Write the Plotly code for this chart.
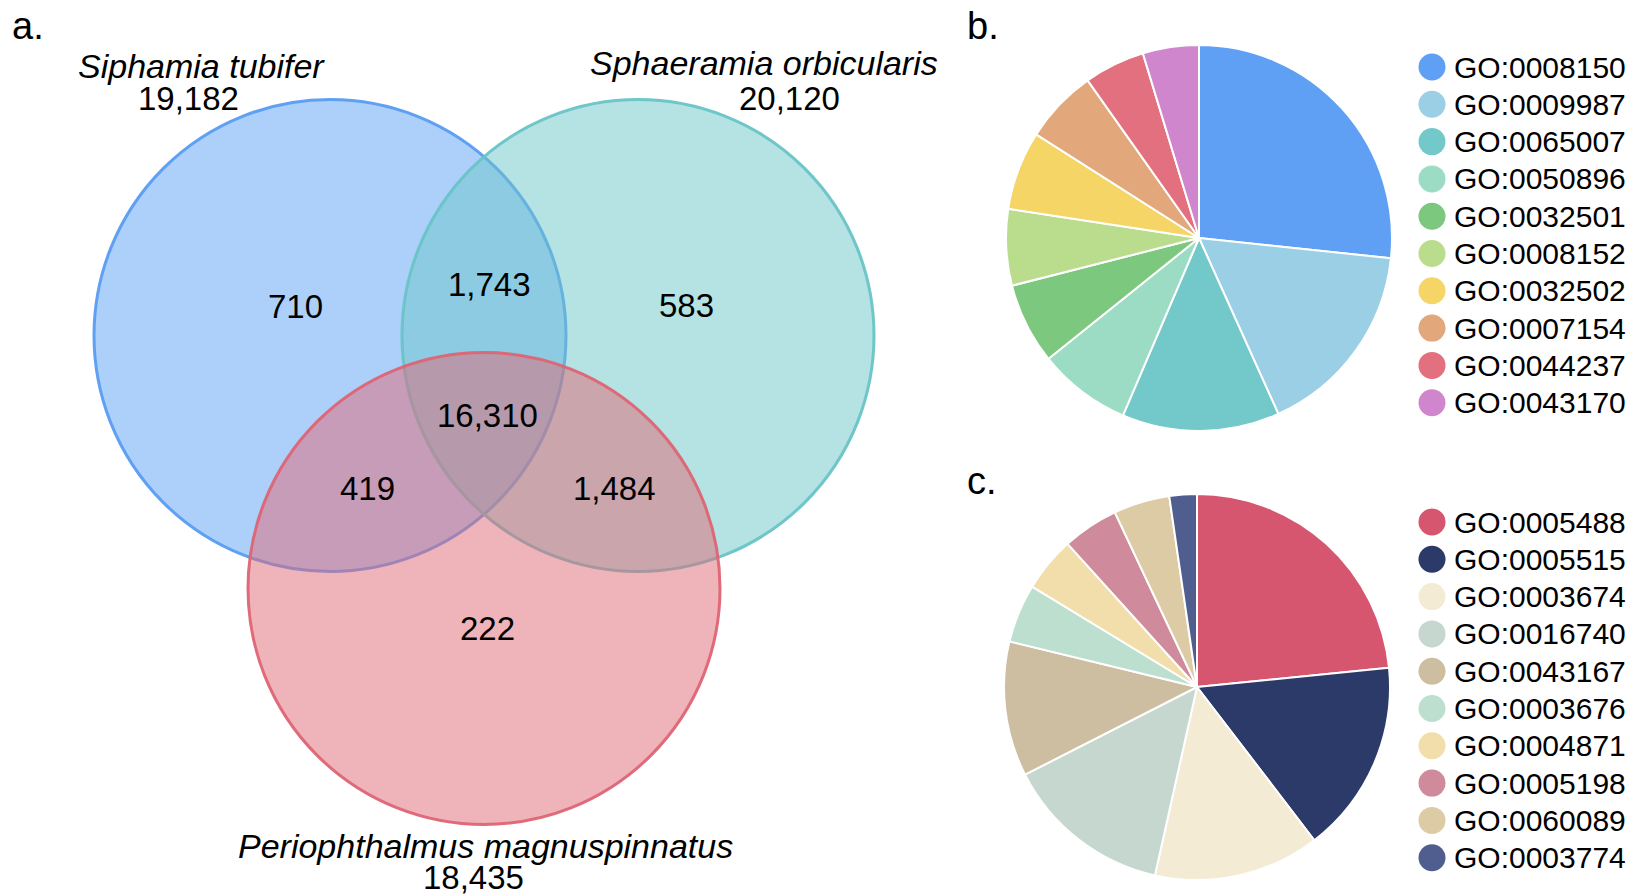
import numpy as np
import plotly.graph_objects as go

W, H = 1638, 896
FONT = "Arial, Liberation Sans, sans-serif"

# ---- Venn data: gene families shared between the three species ----
species = ["Siphamia tubifer", "Sphaeramia orbicularis", "Periophthalmus magnuspinnatus"]
species_totals = [19182, 20120, 18435]
# region counts: A only, B only, C only, A&B, A&C, B&C, A&B&C
region_names = ["A", "B", "C", "AB", "AC", "BC", "ABC"]
region_counts = [710, 583, 222, 1743, 419, 1484, 16310]

# ---- GO term composition (b: biological process, c: molecular function) ----
go_terms_b = ["GO:0008150", "GO:0009987", "GO:0065007", "GO:0050896", "GO:0032501",
              "GO:0008152", "GO:0032502", "GO:0007154", "GO:0044237", "GO:0043170"]
go_share_b = [26.7, 16.6, 13.2, 7.8, 6.8, 6.4, 6.6, 6.2, 5.1, 4.7]
go_colors_b = ["#5fa0f5", "#9bcfe6", "#73c8c9", "#9cdcc4", "#7cc87e",
               "#badd8d", "#f5d565", "#e2a87c", "#e2707e", "#d086cd"]

go_terms_c = ["GO:0005488", "GO:0005515", "GO:0003674", "GO:0016740", "GO:0043167",
              "GO:0003676", "GO:0004871", "GO:0005198", "GO:0060089", "GO:0003774"]
go_share_c = [23.4, 16.2, 13.9, 14.0, 11.3, 4.9, 4.6, 4.7, 4.7, 2.3]
go_colors_c = ["#d7566f", "#2b3a69", "#f3ebd4", "#c6d7cf", "#cdbda1",
               "#bddfcf", "#f1deab", "#cf8a9c", "#ddcba5", "#4f5e8f"]

# ---- Venn geometry (pixel units on a hidden full-page axis) ----
venn_r = 236
venn_mid_x, venn_top_y = 484, 335.5
dx, dy = 154, 253
centers = [(venn_mid_x - dx, venn_top_y), (venn_mid_x + dx, venn_top_y),
           (venn_mid_x, venn_top_y + dy)]
venn_fill = ["rgba(89,161,245,0.5)", "rgba(107,197,199,0.5)", "rgba(223,103,117,0.5)"]
venn_line = ["rgba(88,156,242,0.95)", "rgba(104,196,198,0.95)", "rgba(222,100,116,0.95)"]

label_pos = {"A": (295, 306), "B": (686, 305), "C": (487, 628),
             "AB": (489, 284), "AC": (367, 488), "BC": (614, 488), "ABC": (487, 415)}
title_pos = [((201, 66), (188, 98)), ((764, 63), (789, 98)), ((485, 846), (473, 877))]

fig = go.Figure()

shapes = []
for (cx, cy), fc, lc in zip(centers, venn_fill, venn_line):
    shapes.append(dict(type="circle", xref="x", yref="y",
                       x0=cx - venn_r, x1=cx + venn_r, y0=cy - venn_r, y1=cy + venn_r,
                       fillcolor=fc, line=dict(color=lc, width=3), layer="below"))

annotations = []
for name, count in zip(region_names, region_counts):
    x, y = label_pos[name]
    annotations.append(dict(x=x, y=y, xref="x", yref="y", text=f"{count:,}",
                            showarrow=False, xanchor="center", yanchor="middle",
                            font=dict(size=33, color="#000", family=FONT)))
for sp, tot, (tp, np_) in zip(species, species_totals, title_pos):
    annotations.append(dict(x=tp[0], y=tp[1], xref="x", yref="y", text=f"<i>{sp}</i>",
                            showarrow=False, xanchor="center", yanchor="middle",
                            borderpad=0,
                            font=dict(size=34, color="#000", family=FONT)))
    annotations.append(dict(x=np_[0], y=np_[1], xref="x", yref="y", text=f"{tot:,}",
                            showarrow=False, xanchor="center", yanchor="middle",
                            borderpad=0,
                            font=dict(size=33, color="#000", family=FONT)))

# panel letters
for txt, x, y in [("a.", 10, 26), ("b.", 965, 26), ("c.", 965, 481)]:
    annotations.append(dict(x=x, y=y, xref="x", yref="y", text=txt, showarrow=False,
                            xanchor="left", yanchor="middle",
                            font=dict(size=38, color="#000", family=FONT)))

# ---- pies ----
def pie_domain(cx, cy, r):
    return dict(x=[(cx - r) / W, (cx + r) / W], y=[(H - cy - r) / H, (H - cy + r) / H])

pie_r = 193
for terms, vals, cols, (cx, cy) in [(go_terms_b, go_share_b, go_colors_b, (1199, 238)),
                                    (go_terms_c, go_share_c, go_colors_c, (1197, 687))]:
    fig.add_trace(go.Pie(labels=terms, values=vals, sort=False, direction="clockwise",
                         rotation=0, textinfo="none", hoverinfo="label+percent",
                         marker=dict(colors=cols, line=dict(color="white", width=2)),
                         domain=pie_domain(cx, cy, pie_r), showlegend=False))

# ---- hand-built legends with round keys ----
leg_x, leg_step = 1432, 37.3
for terms, cols, y0 in [(go_terms_b, go_colors_b, 67), (go_terms_c, go_colors_c, 522)]:
    ys = [y0 + i * leg_step for i in range(len(terms))]
    fig.add_trace(go.Scatter(x=[leg_x] * len(terms), y=ys, mode="markers",
                             marker=dict(size=27, color=cols, line=dict(width=0)),
                             hoverinfo="skip", showlegend=False))
    for t, y in zip(terms, ys):
        annotations.append(dict(x=leg_x + 20, y=y, xref="x", yref="y", text=t,
                                showarrow=False, xanchor="left", yanchor="middle",
                                font=dict(size=30, color="#000", family=FONT)))

fig.update_layout(
    width=W, height=H, margin=dict(l=0, r=0, t=0, b=0),
    paper_bgcolor="white", plot_bgcolor="white",
    xaxis=dict(range=[0, W], domain=[0, 1], visible=False, fixedrange=True),
    yaxis=dict(range=[H, 0], domain=[0, 1], visible=False, fixedrange=True),
    shapes=shapes, annotations=annotations, showlegend=False,
    font=dict(family=FONT),
)

fig.write_html("out.html")
